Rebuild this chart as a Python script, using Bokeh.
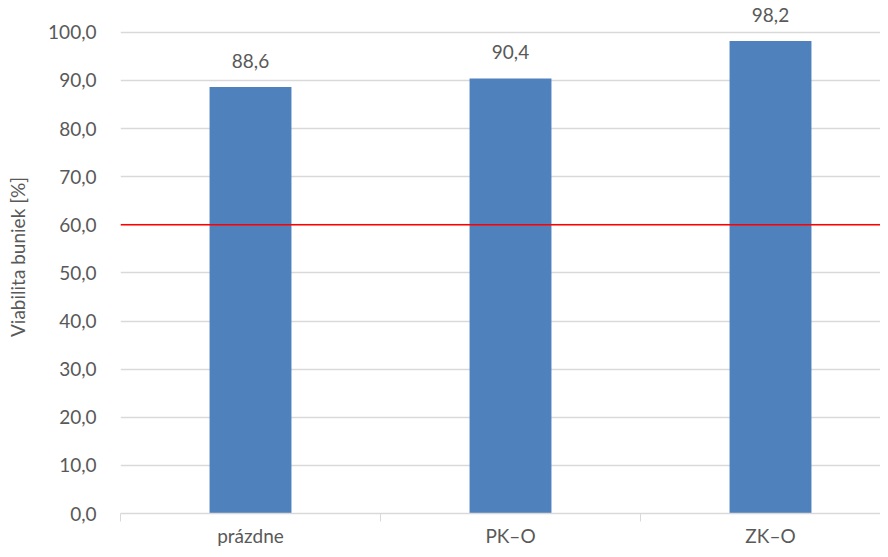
import numpy as np
from bokeh.plotting import figure
from bokeh.models import ColumnDataSource, FixedTicker, Span, Range1d
from bokeh.core.properties import value
from bokeh.embed import file_html
from bokeh.resources import INLINE

categories = ["prázdne", "PK\u2013O", "ZK\u2013O"]
viability = [88.6, 90.4, 98.2]
threshold = 60.0
y_ticks = [0, 10, 20, 30, 40, 50, 60, 70, 80, 90, 100]
y_title = "Viabilita buniek [%]"

FONT = "Lato"
TXT = "#595959"
FS = "19px"

def fmt(v):
    return f"{v:.1f}".replace(".", ",")

x = np.arange(len(categories)) + 0.5
src = ColumnDataSource(dict(x=x, top=viability, label=[fmt(v) for v in viability]))

p = figure(width=880, height=549, output_backend="svg", toolbar_location=None,
           x_range=Range1d(0, 760 / 260), y_range=Range1d(0, 106.6),
           min_border_left=120, min_border_right=0, min_border_top=0, min_border_bottom=33)
p.outline_line_color = None

p.vbar(x="x", top="top", width=0.315, source=src, fill_color="#4f81bd", line_color=None)
p.text(x="x", y="top", text="label", source=src, text_align="center", text_baseline="bottom",
       y_offset=-19, text_font=value(FONT), text_font_size=FS, text_color=TXT)

p.add_layout(Span(location=threshold, dimension="width", line_color="#ff0000", line_width=1.5))

# x axis
p.xaxis.ticker = FixedTicker(ticks=list(x), minor_ticks=list(range(len(categories) + 1)))
p.xaxis.major_label_overrides = {float(xx): c for xx, c in zip(x, categories)}
p.xaxis.major_tick_out = 0
p.xaxis.major_tick_in = 0
p.xaxis.minor_tick_out = 8
p.xaxis.minor_tick_in = 0
p.xaxis.minor_tick_line_color = "#d9d9d9"
p.xaxis.axis_line_color = "#d9d9d9"
p.xaxis.axis_line_width = 1.5
p.xaxis.major_label_standoff = 2
p.xaxis.major_label_text_font = FONT
p.xaxis.major_label_text_font_size = FS
p.xaxis.major_label_text_color = TXT
p.xgrid.grid_line_color = None

# y axis
p.yaxis.ticker = FixedTicker(ticks=y_ticks)
p.yaxis.major_label_overrides = {t: fmt(t) for t in y_ticks}
p.yaxis.axis_line_color = None
p.yaxis.major_tick_line_color = None
p.yaxis.minor_tick_line_color = None
p.yaxis.major_tick_out = 0
p.yaxis.major_label_standoff = 24
p.yaxis.major_label_text_font = FONT
p.yaxis.major_label_text_font_size = FS
p.yaxis.major_label_text_color = TXT
p.yaxis.axis_label = y_title
p.yaxis.axis_label_text_font = FONT
p.yaxis.axis_label_text_font_size = FS
p.yaxis.axis_label_text_font_style = "normal"
p.yaxis.axis_label_text_color = TXT
p.yaxis.axis_label_standoff = 16
p.ygrid.grid_line_color = "#d9d9d9"
p.ygrid.grid_line_width = 1.5

open("out.html", "w").write(file_html(p, INLINE))
